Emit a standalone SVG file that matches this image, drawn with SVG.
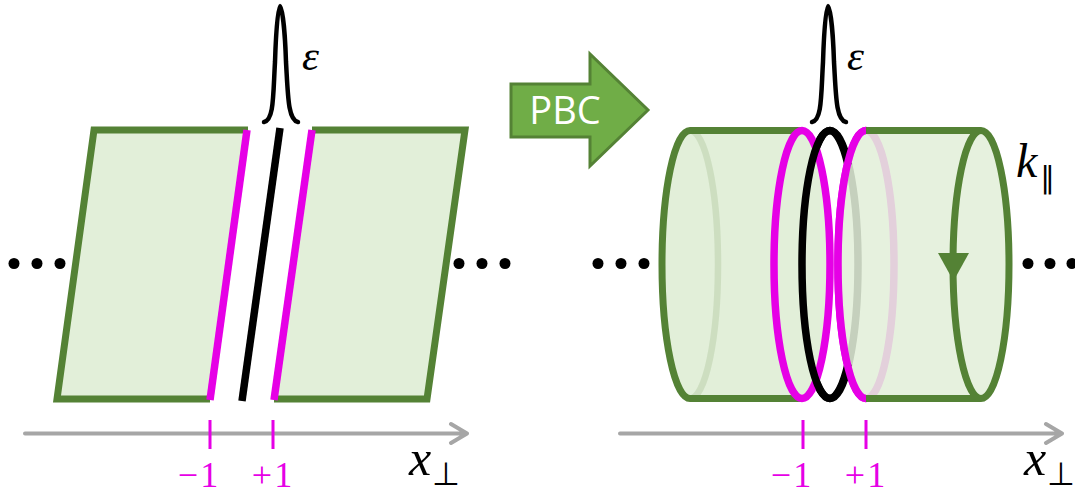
<svg xmlns="http://www.w3.org/2000/svg" width="1075" height="494" viewBox="0 0 1075 494">
<style>
.fill{fill:#E2EFD9}
.g{fill:none;stroke:#548235;stroke-width:7}
.m{fill:none;stroke:#E600E6;stroke-width:7.500}
.k{fill:none;stroke:#000;stroke-width:7.500}
.peak{fill:none;stroke:#000;stroke-width:4.500;stroke-linecap:round}
.ax{fill:none;stroke:#A6A6A6;stroke-width:4;stroke-linecap:round;stroke-linejoin:round}
.tick{stroke:#E600E6;stroke-width:3}
.mth{font-family:"Liberation Serif",serif;font-style:italic;fill:#000}
.num{font-family:"Liberation Serif",serif;font-size:36px;letter-spacing:2px;fill:#E600E6;text-anchor:middle}
.dot{fill:#000}
</style>
<rect width="1075" height="494" fill="#fff"/>

<g id="left-sheet">
<path class="fill" d="M94 130H248L210 399H57Z"/>
<path class="fill" d="M312 130H465L427 399H274Z"/>
<path class="g" d="M248 130H94L57 399H210"/>
<path class="g" d="M312 130H465L427 399H274"/>
<path class="m" d="M247 130L210 400"/>
<path class="m" d="M312 130L274 400"/>
<path class="k" d="M280 128L242 401"/>
</g>
<g id="left-peak">
<path class="peak" d="M264 122C274 120 273 96 275 62C276 30 278 6 280 6C282 6 285 30 286 62C288 96 288 120 298 122"/>
<text class="mth" x="302" y="70" font-size="43">ε</text>
</g>

<g id="pbc-arrow">
<path d="M511 84H590V54L648 110L590 166V137H511Z" fill="#70AD47" stroke="#548235" stroke-width="3"/>
<text x="565" y="124" font-family="Open Sans,sans-serif" font-size="38" fill="#fff" text-anchor="middle">PBC</text>
</g>

<g id="cylinder">
<ellipse class="k" cx="830" cy="264.500" rx="28" ry="134"/>
<ellipse class="m" cx="866" cy="264.500" rx="28" ry="134"/>
<path d="M866 130.500H981A28 134 0 0 1 981 398.500H866A28 134 0 0 1 866 130.500Z" fill="#E2EFD9" fill-opacity=".87"/>
<path d="M690 130.500H802A28 134 0 0 1 802 398.500H690A28 134 0 0 1 690 130.500Z" class="fill"/>
<path d="M690 130.500A28 134 0 0 1 690 398.500" fill="none" stroke="#548235" stroke-opacity=".15" stroke-width="6.500"/>
<path class="g" d="M802 130.500H690A28 134 0 0 0 690 398.500H802"/>
<path class="g" d="M866 130.500H981A28 134 0 0 1 981 398.500H866"/>
<path class="g" d="M981 130.500A28 134 0 0 0 981 398.500"/>
<path d="M938 253H969L953.500 281Z" fill="#548235"/>
<ellipse class="m" cx="802" cy="264.500" rx="28" ry="134"/>
<path class="k" d="M830 130.500A28 134 0 0 0 830 398.500"/>
<path class="k" d="M830 130.500A28 134 0 0 1 848 165M848 364A28 134 0 0 1 830 398.500"/>
<path class="m" d="M866 130.500A28 134 0 0 0 866 398.500"/>
</g>
<g id="right-peak">
<path class="peak" d="M812 122C822 120 821 96 823 62C824 30 826 6 828 6C830 6 833 30 834 62C836 96 836 120 846 122"/>
<text class="mth" x="847" y="70" font-size="43">ε</text>
</g>
<g id="k-label">
<text class="mth" x="1016" y="177" font-size="48">k</text>
<text x="1040" y="188" font-family="DejaVu Sans,sans-serif" font-size="30" fill="#000">∥</text>
</g>

<g id="dots">
<circle class="dot" cx="14" cy="263.500" r="5.500"/><circle class="dot" cx="37" cy="263.500" r="5.500"/><circle class="dot" cx="60" cy="263.500" r="5.500"/>
<circle class="dot" cx="459" cy="263.500" r="5.500"/><circle class="dot" cx="482" cy="263.500" r="5.500"/><circle class="dot" cx="505" cy="263.500" r="5.500"/>
<circle class="dot" cx="598" cy="263.500" r="5.500"/><circle class="dot" cx="621" cy="263.500" r="5.500"/><circle class="dot" cx="644" cy="263.500" r="5.500"/>
<circle class="dot" cx="1028" cy="263.500" r="5.500"/><circle class="dot" cx="1050" cy="263.500" r="5.500"/><circle class="dot" cx="1072" cy="263.500" r="5.500"/>
</g>

<g id="connectors">
<path class="ax" d="M25 433.500H466M451 424L467 433.500L451 443"/>
<path class="ax" d="M620 433.500H1061M1046 424L1062 433.500L1046 443"/>
<path class="tick" d="M210 420V449M273 420V449M803 420V449M866 420V449"/>
</g>

<g id="axis-labels">
<text class="num" x="199" y="487">−1</text>
<text class="num" x="273" y="487">+1</text>
<text class="num" x="792" y="487">−1</text>
<text class="num" x="866" y="487">+1</text>
<text class="mth" x="409" y="475" font-size="50">x</text>
<text x="432" y="485" font-family="DejaVu Sans,sans-serif" font-size="32" fill="#000">⊥</text>
<text class="mth" x="1024" y="475" font-size="50">x</text>
<text x="1047" y="485" font-family="DejaVu Sans,sans-serif" font-size="32" fill="#000">⊥</text>
</g>
</svg>
